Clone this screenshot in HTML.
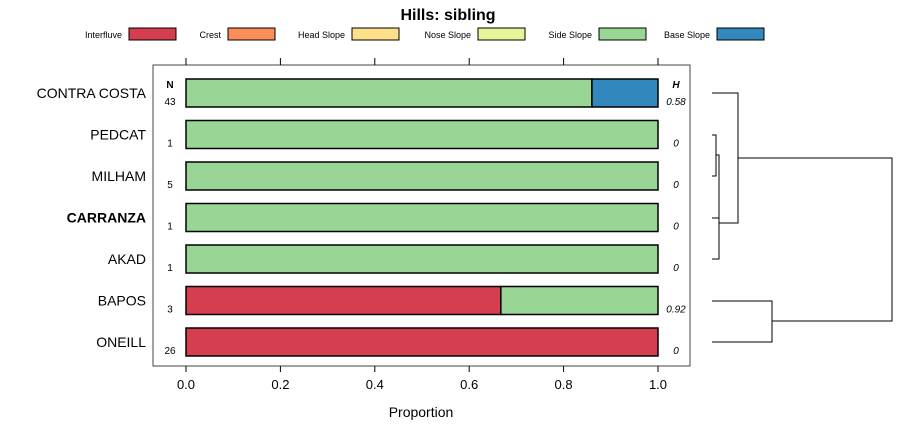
<!DOCTYPE html>
<html><head><meta charset="utf-8"><style>
html,body{margin:0;padding:0;background:#fff;}
svg{display:block;font-family:"Liberation Sans",sans-serif;}
</style></head><body>
<svg id="chart" width="900" height="440">
<text x="448" y="20" text-anchor="middle" font-size="16" font-weight="bold">Hills: sibling</text>
<g id="legend"></g>
<rect x="153" y="65" width="537" height="301" fill="none" stroke="#444" stroke-width="1"/>
<g id="axis"></g>
<g id="bars"></g>
<text x="170" y="88" text-anchor="middle" font-size="10" font-weight="bold">N</text>
<text x="676" y="88" text-anchor="middle" font-size="10" font-weight="bold" font-style="italic">H</text>
<text x="421" y="417" text-anchor="middle" font-size="14">Proportion</text>
<g id="dendro" stroke="#000" stroke-width="1" fill="none">
<path d="M712 93H738V223H719M712 135H716V176H712M716 155H719V259H712M712 218H719M738 158H892V321H772M712 301H772V342H712"/>
</g>
</svg>
<script>
const categories=["CONTRA COSTA","PEDCAT","MILHAM","CARRANZA","AKAD","BAPOS","ONEILL"];
const nValues=[43,1,5,1,1,3,26];
const hValues=["0.58","0","0","0","0","0.92","0"];
const classes=["Interfluve","Crest","Head Slope","Nose Slope","Side Slope","Base Slope"];
const colors=["#d53e4f","#fc8d59","#fee08b","#e6f598","#99d594","#3288bd"];
const interfluve=[0,0,0,0,0,0.667,1];
const sideSlope=[0.86,1,1,1,1,0.333,0];
const baseSlope=[0.14,0,0,0,0,0,0];
const ticks=[0,0.2,0.4,0.6,0.8,1.0];
const NS="http://www.w3.org/2000/svg";
const x=v=>186+v*472;
const y=i=>93+i*41.5;
function mk(tag,attrs,parent){const e=document.createElementNS(NS,tag);for(const k in attrs)e.setAttribute(k,attrs[k]);parent.appendChild(e);return e;}
const lg=document.getElementById('legend');
const lgX=[129,228,352,478,599,717];
classes.forEach((c,i)=>{
  const t=mk('text',{x:lgX[i]-7,y:38,'text-anchor':'end','font-size':9},lg);t.textContent=c;
  
  
  const r=mk('rect',{x:lgX[i],y:28,width:47,height:12,fill:colors[i],stroke:'#000','stroke-width':1},lg);
  
  
});
const ax=document.getElementById('axis');
ticks.forEach(t=>{
  mk('line',{x1:x(t),x2:x(t),y1:366,y2:372,stroke:'#000'},ax);
  mk('line',{x1:x(t),x2:x(t),y1:58,y2:65,stroke:'#000'},ax);
  const l=mk('text',{x:x(t),y:389,'text-anchor':'middle','font-size':13},ax);l.textContent=t.toFixed(1);
  
  
});
const bg=document.getElementById('bars');
const series=[[interfluve,colors[0]],[sideSlope,colors[4]],[baseSlope,colors[5]]];
categories.forEach((c,i)=>{
  const cy=y(i);
  const lab=mk('text',{x:146,y:cy+5,'text-anchor':'end','font-size':14,'font-weight':c==="CARRANZA"?'bold':'normal'},bg);lab.textContent=c;
  
  
  let acc=0;
  series.forEach(([arr,col])=>{
    const v=arr[i];if(v<=0)return;
    const r=mk('rect',{x:x(acc),y:cy-14,width:x(acc+v)-x(acc),height:28,fill:col,stroke:'#000','stroke-width':1.5},bg);
    
    
    acc+=v;
  });
  const n=mk('text',{x:170,y:cy+12,'text-anchor':'middle','font-size':10},bg);n.textContent=nValues[i];
  
  
  const h=mk('text',{x:676,y:cy+12,'text-anchor':'middle','font-size':10,'font-style':'italic'},bg);h.textContent=hValues[i];
  
  
});
</script>
</body></html>
